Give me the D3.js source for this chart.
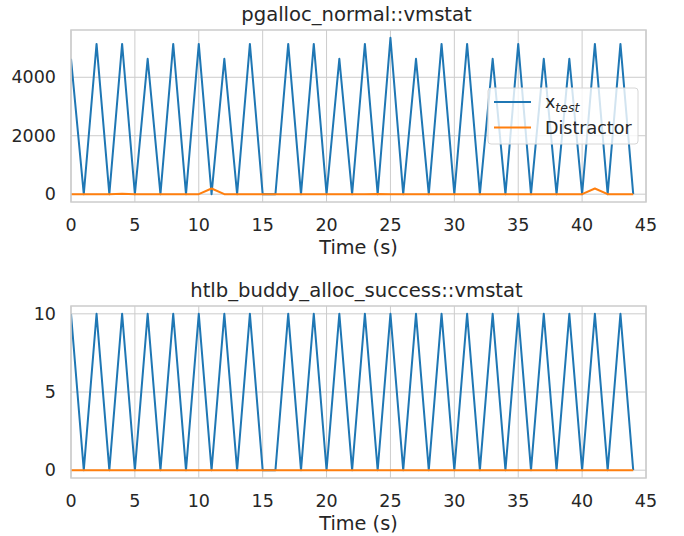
<!DOCTYPE html>
<html>
<head>
<meta charset="utf-8">
<script src="https://cdn.jsdelivr.net/npm/d3@7"></script>
<style>
    body { margin: 0; background: #fff; }
    text { font-family: "DejaVu Sans", sans-serif; fill: #262626; }
</style>
</head>
<body>
<div id="chart"></div>
<script>
// tempo in secondi
var times = d3.range(0, 45);

// pgalloc_normal
var pgallocTest = [4630, 0, 5140, 0, 5140, 0, 4630, 0, 5140, 0, 5140, 0, 4630, 0, 5140, 0, 0, 5140, 0, 5140,
    0, 4630, 0, 5140, 0, 5350, 0, 4630, 0, 5140, 0, 5140, 0, 4630, 0, 5140, 0, 4630, 0, 4630,
    0, 5140, 0, 5140, 0];
var pgallocDistr = [0, 0, 0, 0, 15, 0, 0, 0, 0, 0, 0, 195, 0, 0, 0, 0, 0, 0, 0, 0,
    0, 0, 0, 0, 10, 0, 0, 0, 0, 0, 0, 0, 0, 0, 0, 0, 0, 0, 0, 0,
    0, 195, 0, 0, 0];

// htlb_buddy_alloc_success
var htlbTest = [10, 0, 10, 0, 10, 0, 10, 0, 10, 0, 10, 0, 10, 0, 10, 0, 0, 10, 0, 10,
    0, 10, 0, 10, 0, 10, 0, 10, 0, 10, 0, 10, 0, 10, 0, 10, 0, 10, 0, 10,
    0, 10, 0, 10, 0];
var htlbDistr = times.map(function () { return 0; });

var xTicks = [0, 5, 10, 15, 20, 25, 30, 35, 40, 45];
var pgallocYTicks = [0, 2000, 4000];
var htlbYTicks = [0, 5, 10];

var seriesNames = ["test", "Distractor"];
var colors = ["#1f77b4", "#ff7f0e"];

var width = 684, height = 536;
var svg = d3.select("#chart").append("svg")
    .attr("width", width)
    .attr("height", height);

function drawPanel(top, title, yTicks, test, distr, showLegend) {
    var left = 71, right = 646, bottom = top + 172;

    var all = test.concat(distr);
    var yMin = d3.min(all), yMax = d3.max(all);
    var pad = (yMax - yMin) * 0.05;

    var x = d3.scaleLinear().domain([0, 45]).range([left, right]);
    var y = d3.scaleLinear().domain([yMin - pad, yMax + pad]).range([bottom, top]);

    var g = svg.append("g");

    // griglia
    g.selectAll(".vgrid").data(xTicks).enter().append("line")
        .attr("x1", function (d) { return x(d); })
        .attr("x2", function (d) { return x(d); })
        .attr("y1", top).attr("y2", bottom)
        .attr("stroke", "#cccccc").attr("stroke-width", 1);
    g.selectAll(".hgrid").data(yTicks).enter().append("line")
        .attr("x1", left).attr("x2", right)
        .attr("y1", function (d) { return y(d); })
        .attr("y2", function (d) { return y(d); })
        .attr("stroke", "#cccccc").attr("stroke-width", 1);

    var clipId = "clip" + Math.round(top);
    svg.append("clipPath").attr("id", clipId).append("rect")
        .attr("x", left).attr("y", top).attr("width", right - left).attr("height", bottom - top);

    var line = d3.line()
        .x(function (d, i) { return x(times[i]); })
        .y(function (d) { return y(d); });

    [test, distr].forEach(function (s, k) {
        g.append("path")
            .datum(s)
            .attr("clip-path", "url(#" + clipId + ")")
            .attr("d", line)
            .attr("fill", "none")
            .attr("stroke", colors[k])
            .attr("stroke-width", 2)
            .attr("stroke-linejoin", "round");
    });

    // cornice
    g.append("rect")
        .attr("x", left).attr("y", top)
        .attr("width", right - left).attr("height", bottom - top)
        .attr("fill", "none")
        .attr("stroke", "#cccccc")
        .attr("stroke-width", 1.5);

    // etichette assi
    g.selectAll(".xt").data(xTicks).enter().append("text")
        .attr("x", function (d) { return x(d); })
        .attr("y", bottom + 23)
        .attr("dy", "0.35em")
        .attr("text-anchor", "middle")
        .style("font-size", "17.5px")
        .text(function (d) { return d; });
    g.selectAll(".yt").data(yTicks).enter().append("text")
        .attr("x", 56)
        .attr("y", function (d) { return y(d); })
        .attr("dy", "0.35em")
        .attr("text-anchor", "end")
        .style("font-size", "17.5px")
        .text(function (d) { return d; });

    g.append("text")
        .attr("x", (left + right) / 2)
        .attr("y", bottom + 45)
        .attr("dy", "0.35em")
        .attr("text-anchor", "middle")
        .style("font-size", "19.3px")
        .text("Time (s)");

    g.append("text")
        .attr("x", (left + right) / 2 - 2)
        .attr("y", top - 9)
        .attr("text-anchor", "middle")
        .style("font-size", "19.6px")
        .text(title);

    if (showLegend) {
        var lg = g.append("g").attr("transform", "translate(488,88)");
        lg.append("rect")
            .attr("width", 150).attr("height", 56)
            .attr("rx", 3)
            .attr("fill", "#ffffff").attr("fill-opacity", 0.8)
            .attr("stroke", "#d6d6d6");
        var item = lg.selectAll(".legend").data(seriesNames).enter().append("g")
            .attr("transform", function (d, i) { return "translate(0," + (14 + i * 25.5) + ")"; });
        item.append("line")
            .attr("x1", 6).attr("x2", 43)
            .attr("stroke", function (d, i) { return colors[i]; })
            .attr("stroke-width", 2);
        item.append("text")
            .attr("x", 57)
            .attr("dy", "0.35em")
            .style("font-size", "17.5px")
            .each(function (d, i) {
                var t = d3.select(this);
                if (i == 0) {
                    t.append("tspan").text("x");
                    t.append("tspan")
                        .attr("dy", "0.3em")
                        .style("font-size", "12.5px")
                        .style("font-style", "italic")
                        .text(d);
                } else {
                    t.text(d);
                }
            });
    }
}

drawPanel(30, "pgalloc_normal::vmstat", pgallocYTicks, pgallocTest, pgallocDistr, true);
drawPanel(306, "htlb_buddy_alloc_success::vmstat", htlbYTicks, htlbTest, htlbDistr, false);
</script>
</body>
</html>
